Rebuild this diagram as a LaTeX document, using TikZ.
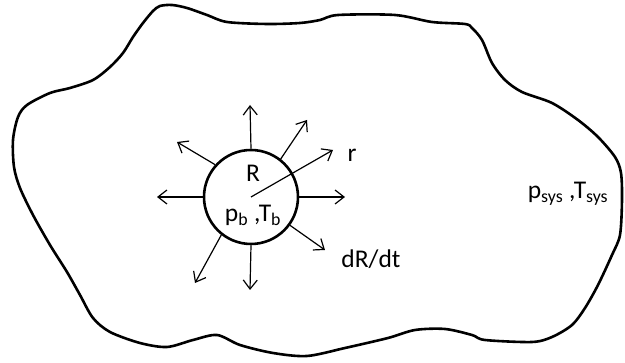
\documentclass[tikz,border=0pt]{standalone}
\usepackage{fontspec}
\setmainfont{Carlito}
\usetikzlibrary{arrows.meta}

\begin{document}
\begin{tikzpicture}[
      x=1pt, y=1pt,
      outline/.style={line width=2.6pt, line join=round},
      bubble/.style={draw, circle, line width=2.6pt, minimum size=94pt, inner sep=0pt},
      arr/.style={-{Straight Barb[length=9pt, width=14pt]}, line width=1.2pt},
      lbl/.style={font=\fontsize{25.5}{30}\selectfont, inner sep=0pt, anchor=base}
    ]
      \useasboundingbox (0,0) rectangle (625,363);
      \draw[outline] plot[smooth cycle, tension=0.5] coordinates {
        (160,357) (172,358) (187,355) (207,348) (227,341) (267,339) (300,340) (320,343)
        (338,348) (395,348) (432,341) (465,339) (472,335) (482,323) (492,300)
        (505,283) (522,271) (552,260) (578,243) (598,226) (615,206) (621,190)
        (622,163) (620,128) (612,108) (598,78) (585,55) (572,38) (552,26)
        (532,21) (485,23) (472,28) (445,34) (415,33) (388,25) (345,15)
        (307,7) (273,10) (240,18) (217,28) (193,23) (167,16) (140,20)
        (110,31) (93,45) (80,68) (67,91) (50,118) (33,148) (20,175)
        (14,196) (13,223) (18,246) (27,258) (50,270) (70,275) (93,283)
        (110,296) (123,310) (133,326) (143,340) (153,352)};
      \node[bubble] (bubble) at (251,166) {};
      \foreach \ang/\tx/\ty [count=\i] in {90/250/258, 52/307/243, 0/345/166,
          -36/325/113, -90/250/73, 232/195/80, 180/157/166, 138/177/221} {
        \coordinate (tip\i) at (\tx,\ty);
        \draw[arr] (bubble.\ang) -- (tip\i);
      }
      \coordinate (rtip) at (333,213);
      \draw[arr] (bubble.center) -- (rtip);
      \node[lbl] (radius) at (253,181) {R};
      \node[lbl] (bubstate) at (253,141) {p\textsubscript{b} ,T\textsubscript{b}};
      \node[lbl] (rlabel) at (352,201) {r};
      \node[lbl] (rate) at (371,95) {dR/dt};
      \node[lbl] (sysstate) at (568,164) {p\textsubscript{sys} ,T\textsubscript{sys}};
    \end{tikzpicture}
\end{document}
